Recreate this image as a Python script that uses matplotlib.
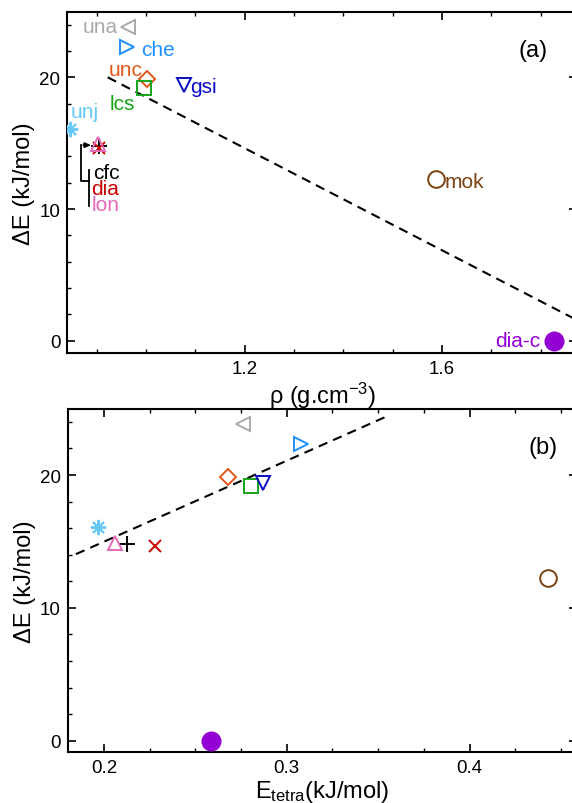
import matplotlib
matplotlib.use('Agg')
import matplotlib.pyplot as plt
from matplotlib.ticker import MultipleLocator

plt.rcParams.update({
    'font.family': ['Liberation Sans', 'DejaVu Sans'],
    'mathtext.fontset': 'custom',
    'mathtext.rm': 'Liberation Sans',
    'mathtext.it': 'Liberation Sans:italic',
    'mathtext.bf': 'Liberation Sans:bold',
    'axes.linewidth': 1.5,
})

# ---------------- data ----------------
names = ['una', 'che', 'unc', 'lcs', 'gsi', 'unj', 'cfc', 'dia', 'lon', 'mok', 'dia-c']
rho = [0.963, 0.962, 1.001, 0.995, 1.076, 0.845, 0.904, 0.904, 0.903, 1.587, 1.828]
e_tetra = [0.2761, 0.3077, 0.2679, 0.2802, 0.2871, 0.1969, 0.2124, 0.2279, 0.2060, 0.4428, 0.2585]
delta_e = [23.85, 22.30, 19.85, 19.20, 19.43, 16.10, 14.80, 14.65, 14.90, 12.27, 0.00]

# linear fits (slope, intercept, x range)
fit_rho = [-19.37, 37.86, 0.922, 1.95]
fit_tetra = [61.0, 2.78, 0.1847, 0.3554]

# ---------------- styles ----------------
colors = {'una': '#a9a9a9', 'che': '#1e8fff', 'unc': '#e2561c', 'lcs': '#16a516',
          'gsi': '#0a0ac8', 'unj': '#66c8f5', 'cfc': '#000000', 'dia': '#cc0000',
          'lon': '#e46ab8', 'mok': '#7a4212', 'dia-c': '#9400d3'}
markers = {'una': ('<', 10.5), 'che': ('>', 10.5), 'unc': ('D', 7.8), 'lcs': ('s', 10),
           'gsi': ('v', 10.5), 'unj': ((8, 2, 0), 11), 'cfc': ('+', 11), 'dia': ('x', 8.5),
           'lon': ('^', 10.5), 'mok': ('o', 12), 'dia-c': ('o', 13)}
# label offsets in pixels (dx, dy, ha) for panel (a)
label_off = {'una': (-10, -5, 'right'), 'che': (14, -7.7, 'left'), 'unc': (-4.6, 4, 'right'),
             'lcs': (-9, -21, 'right'), 'gsi': (6.7, -7.3, 'left'), 'unj': (0.7, 11.7, 'left'),
             'cfc': (-6, -32.6, 'left'), 'dia': (-7.6, -46.4, 'left'), 'lon': (-7, -66, 'left'),
             'mok': (9.3, -8.3, 'left'), 'dia-c': (-14.3, -5, 'right')}
draw_order = ['una', 'che', 'unc', 'lcs', 'gsi', 'unj', 'mok', 'dia-c', 'cfc', 'dia', 'lon']

W, H = 572, 804
fig = plt.figure(figsize=(W / 100, H / 100), dpi=100)
fig.patch.set_facecolor('white')

right_px = 577
ax1 = fig.add_axes([67.3 / W, (H - 354.3) / H, (right_px - 67.3) / W, (354.3 - 13.3) / H])
ax2 = fig.add_axes([67.7 / W, (H - 753.3) / H, (right_px - 67.7) / W, (753.3 - 410) / H])


def draw_points(ax, xs):
    for nm in draw_order:
        i = names.index(nm)
        mk, ms = markers[nm]
        filled = nm == 'dia-c'
        ax.plot(xs[i], delta_e[i], linestyle='none', marker=mk, markersize=ms,
                markeredgewidth=1.4, markeredgecolor=colors[nm],
                markerfacecolor=colors[nm] if filled else 'none', zorder=5)


def style_axis(ax):
    ax.tick_params(which='both', direction='in', top=True, right=True, labelsize=13.5, pad=5)
    ax.tick_params(which='major', length=5.5, width=1.2)
    ax.tick_params(which='minor', length=3, width=1.0)
    ax.yaxis.set_major_locator(MultipleLocator(10))
    ax.yaxis.set_minor_locator(MultipleLocator(2))
    ax.set_ylabel('ΔE (kJ/mol)', fontsize=17, labelpad=3)


# ---------------- panel (a) ----------------
draw_points(ax1, rho)
xf = [fit_rho[2], fit_rho[3]]
ax1.plot(xf, [fit_rho[0] * v + fit_rho[1] for v in xf], color='black', lw=1.5,
         linestyle=(0, (4.5, 3)), zorder=3)

for nm in names:
    i = names.index(nm)
    dx, dy, ha = label_off[nm]
    ax1.annotate(nm, (rho[i], delta_e[i]), xytext=(dx, dy), textcoords='offset pixels',
                 ha=ha, va='baseline', fontsize=15, color=colors[nm], zorder=6)

# bracket grouping cfc / dia / lon
ax1.plot([0.8676, 0.8676, 0.8838], [14.85, 12.11, 12.11], color='black', lw=1.3)
ax1.plot([0.8838, 0.8838], [13.0, 10.2], color='black', lw=1.3)
ax1.annotate('', xy=(0.894, 14.85), xytext=(0.8666, 14.85),
             arrowprops=dict(arrowstyle='-|>,head_length=0.35,head_width=0.15', color='black', lw=1.2))

ax1.set_xlim(0.840, 1.874)
ax1.set_ylim(-0.96, 24.94)
ax1.xaxis.set_major_locator(MultipleLocator(0.4))
ax1.xaxis.set_minor_locator(MultipleLocator(0.1))
style_axis(ax1)
ax1.set_xlabel('ρ (g.cm$^{-3}$)', fontsize=17, labelpad=2)
ax1.text(0.9145, 0.889, '(a)', transform=ax1.transAxes, fontsize=17, ha='center', va='center')

# ---------------- panel (b) ----------------
draw_points(ax2, e_tetra)
xf = [fit_tetra[2], fit_tetra[3]]
ax2.plot(xf, [fit_tetra[0] * v + fit_tetra[1] for v in xf], color='black', lw=1.5,
         linestyle=(0, (4.5, 3)), zorder=3)

ax2.set_xlim(0.1802, 0.4587)
ax2.set_ylim(-0.87, 24.97)
ax2.xaxis.set_major_locator(MultipleLocator(0.1))
ax2.xaxis.set_minor_locator(MultipleLocator(0.025))
style_axis(ax2)
ax2.set_xlabel('E$_{\\rm tetra}$(kJ/mol)', fontsize=17, labelpad=1)
ax2.text(0.934, 0.889, '(b)', transform=ax2.transAxes, fontsize=17, ha='center', va='center')

fig.savefig('out.png', dpi=100)
